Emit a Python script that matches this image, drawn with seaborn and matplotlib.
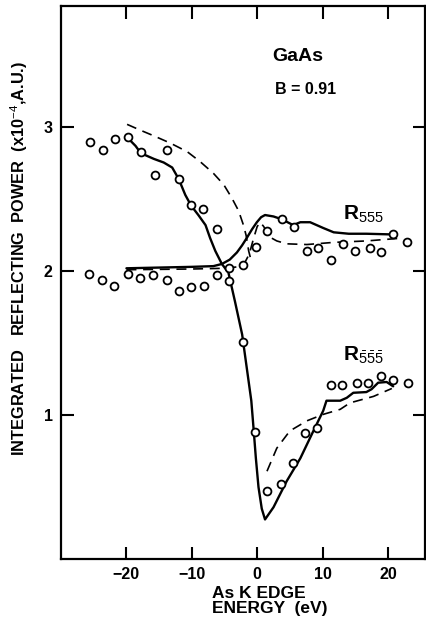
import numpy as np
import pandas as pd
import seaborn as sns
import matplotlib
matplotlib.use("Agg")
import matplotlib.pyplot as plt

# measured points, R555 reflection
r555_x = [-25.8, -23.7, -21.9, -19.8, -17.9, -15.9, -13.8, -12.0, -10.1, -8.2, -6.2, -4.3,
          -2.2, -0.15, 1.5, 3.8, 5.7, 7.6, 9.3, 11.3, 13.2, 15.0, 17.2, 18.9, 20.8, 22.9]
r555_y = [1.98, 1.94, 1.90, 1.98, 1.95, 1.97, 1.94, 1.86, 1.89, 1.90, 1.97, 2.02,
          2.04, 2.17, 2.28, 2.36, 2.31, 2.14, 2.16, 2.08, 2.19, 2.14, 2.16, 2.13, 2.26, 2.20]

# measured points, R-5-5-5 reflection
r555b_x = [-25.5, -23.6, -21.8, -19.8, -17.8, -15.7, -13.8, -12.0, -10.1, -8.35, -6.1, -4.3,
           -2.1, -0.4, 1.5, 3.7, 5.5, 7.3, 9.2, 11.3, 12.9, 15.2, 17.0, 19.0, 20.8, 23.0]
r555b_y = [2.90, 2.84, 2.92, 2.93, 2.83, 2.67, 2.84, 2.64, 2.46, 2.43, 2.29, 1.93,
           1.51, 0.88, 0.47, 0.52, 0.67, 0.875, 0.91, 1.21, 1.21, 1.225, 1.225, 1.27, 1.245, 1.225]

# solid curves
fit555_x = [-20, -10, -6.7, -5.4, -4.2, -3.1, -2.3, -1.6, -0.8, -0.05, 0.6, 1.2, 2.5, 3.8,
            5.5, 6.6, 8.1, 10.1, 11.7, 14.0, 16.7, 20.8]
fit555_y = [2.02, 2.03, 2.035, 2.05, 2.08, 2.13, 2.18, 2.23, 2.29, 2.34, 2.375, 2.39, 2.38, 2.36,
            2.32, 2.34, 2.34, 2.30, 2.27, 2.26, 2.26, 2.255]

fit555b_x = [-19.9, -18.6, -17.8, -15.8, -14.3, -13.0, -12.0, -11.0, -10.1, -9.0, -7.9, -7.2,
             -6.4, -5.4, -4.4, -3.4, -2.3, -1.6, -0.9, -0.56, -0.2, 0.2, 0.7, 1.2, 2.5, 4.5,
             6.6, 8.6, 10.1, 10.6, 11.6, 12.7, 13.7, 14.7, 16.7, 17.5, 18.5, 19.8, 20.8]
fit555b_y = [2.93, 2.87, 2.82, 2.78, 2.755, 2.72, 2.64, 2.53, 2.455, 2.39, 2.32, 2.23,
             2.14, 2.05, 1.99, 1.79, 1.56, 1.33, 1.10, 0.91, 0.70, 0.50, 0.35, 0.275, 0.36, 0.54,
             0.70, 0.89, 1.03, 1.10, 1.10, 1.10, 1.12, 1.155, 1.16, 1.18, 1.225, 1.23, 1.20]

# dashed curves
calc555_x = [-20, -10, -5, -3, -2, -1.2, -0.6, 0.0, 0.46, 1.0, 1.5, 2.2, 3.0, 4.5, 7.6, 11.7,
             16.7, 22.3]
calc555_y = [2.01, 2.015, 2.02, 2.03, 2.05, 2.12, 2.22, 2.31, 2.34, 2.31, 2.27, 2.23, 2.21, 2.19,
             2.185, 2.20, 2.21, 2.23]

calc555b_hi_x = [-19.9, -17.9, -15.8, -13.3, -10.7, -8.7, -6.7, -5.1, -3.9, -2.85, -2.1, -1.7,
                 -1.3, -0.96]
calc555b_hi_y = [3.02, 2.98, 2.94, 2.89, 2.83, 2.76, 2.68, 2.60, 2.51, 2.42, 2.32, 2.25,
                 2.14, 2.08]
calc555b_lo_x = [1.5, 3.0, 5.0, 7.6, 10.1, 12.7, 14.2, 17.8, 20.6]
calc555b_lo_y = [0.61, 0.77, 0.89, 0.96, 1.005, 1.04, 1.085, 1.13, 1.185]

sns.set_style("ticks")
plt.rcParams['font.family'] = ['Liberation Sans', 'DejaVu Sans']
plt.rcParams['mathtext.fontset'] = 'custom'
plt.rcParams['mathtext.rm'] = 'Liberation Sans'
plt.rcParams['mathtext.it'] = 'Liberation Sans'
plt.rcParams['mathtext.bf'] = 'Liberation Sans:bold'
for key in ['text.color', 'axes.labelcolor', 'xtick.color', 'ytick.color', 'axes.edgecolor']:
    plt.rcParams[key] = 'black'

fig = plt.figure(figsize=(4.27, 6.21), dpi=100)
ax = fig.add_axes([0.143, 0.0998, 0.852, 0.890])

line_kw = dict(color='black', estimator=None, sort=False, ax=ax, legend=False)
sns.lineplot(x=fit555_x, y=fit555_y, linewidth=1.7, **line_kw)
sns.lineplot(x=fit555b_x, y=fit555b_y, linewidth=1.7, **line_kw)
for cx, cy in [(calc555_x, calc555_y), (calc555b_hi_x, calc555b_hi_y), (calc555b_lo_x, calc555b_lo_y)]:
    sns.lineplot(x=cx, y=cy, linewidth=1.2, **line_kw)
    ax.lines[-1].set_linestyle((0, (6, 4)))

pts = pd.DataFrame({'x': r555_x + r555b_x, 'y': r555_y + r555b_y})
sns.scatterplot(data=pts, x='x', y='y', ax=ax, marker='o', s=32,
                facecolor='white', edgecolor='black', linewidth=1.3, zorder=3)

ax.set_xlim(-30, 25.65)
ax.set_ylim(0, 3.84)
ax.set_xticks([-20, -10, 0, 10, 20])
ax.set_xticklabels(['\u221220', '\u221210', '0', '10', '20'])
ax.set_yticks([1, 2, 3])
ax.tick_params(direction='in', length=9, width=1.5, top=True, right=True,
               labelsize=11.5, pad=6, colors='black')
for lab in ax.get_xticklabels() + ax.get_yticklabels():
    lab.set_fontweight('bold')
for sp in ax.spines.values():
    sp.set_linewidth(1.6)
    sp.set_color('black')

ax.set_ylabel('INTEGRATED   REFLECTING  POWER  (x10$^{-4}$,A.U.)', fontsize=11.8,
              fontweight='bold')
ax.yaxis.set_label_coords(-0.085, 0.544)
ax.set_xlabel('As K EDGE\nENERGY  (eV)', fontsize=12.5, fontweight='bold',
              multialignment='left', linespacing=1.05)
ax.xaxis.set_label_coords(0.574, -0.048)

ax.text(2.3, 3.46, 'GaAs', fontsize=14, fontweight='bold')
ax.text(2.75, 3.23, 'B = 0.91', fontsize=11.5, fontweight='bold')
ax.text(13.1, 2.36, r'$\mathbf{R}_{555}$', fontsize=15)
ax.text(13.1, 1.375, r'$\mathbf{R}_{\bar{5}\bar{5}\bar{5}}$', fontsize=15)

fig.savefig('out.png', dpi=100)
